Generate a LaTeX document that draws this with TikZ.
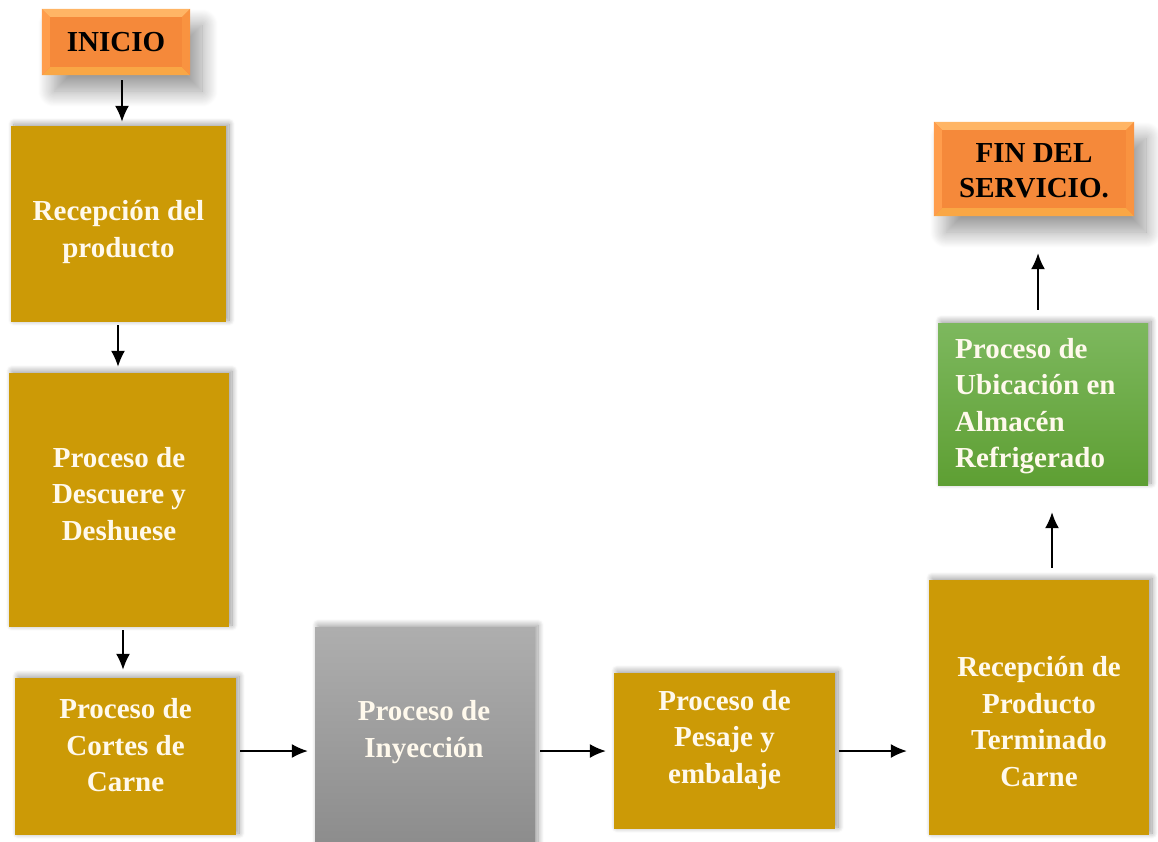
\documentclass[tikz,border=0pt]{standalone}
\usepackage{fontspec}
\setmainfont{Liberation Serif}
\usetikzlibrary{arrows.meta,shadows.blur,calc}
\definecolor{gold}{HTML}{CC9A06}
\definecolor{orcenter}{HTML}{F5893A}
\definecolor{ortop}{HTML}{FFB565}
\definecolor{orleft}{HTML}{FF9D4C}
\definecolor{orbottom}{HTML}{F9A745}
\definecolor{orright}{HTML}{F99340}
\definecolor{grtop}{HTML}{7DB85E}
\definecolor{grbot}{HTML}{5E9F33}
\definecolor{gytop}{HTML}{AEAEAE}
\definecolor{gybot}{HTML}{8C8C8C}
\definecolor{offwhite}{HTML}{FFF9EC}
\newcommand\mybevel[1]{%
  \fill[ortop] (#1.north west) -- (#1.north east) -- ([shift={(-8pt,-8pt)}]#1.north east) -- ([shift={(8pt,-8pt)}]#1.north west) -- cycle;
  \fill[orbottom] (#1.south west) -- (#1.south east) -- ([shift={(-8pt,8pt)}]#1.south east) -- ([shift={(8pt,8pt)}]#1.south west) -- cycle;
  \fill[orleft] (#1.north west) -- (#1.south west) -- ([shift={(8pt,8pt)}]#1.south west) -- ([shift={(8pt,-8pt)}]#1.north west) -- cycle;
  \fill[orright] (#1.north east) -- (#1.south east) -- ([shift={(-8pt,8pt)}]#1.south east) -- ([shift={(-8pt,-8pt)}]#1.north east) -- cycle;
}
\tikzset{
  boxbase/.style={rectangle, inner sep=0pt, draw=none},
  goldbox/.style={boxbase, fill=gold, blur shadow={shadow xshift=3pt, shadow yshift=2pt, shadow blur radius=6pt, shadow opacity=40, shadow blur steps=12}},
  graybox/.style={boxbase, top color=gytop, bottom color=gybot, blur shadow={shadow xshift=3pt, shadow yshift=2pt, shadow blur radius=6pt, shadow opacity=40, shadow blur steps=12}},
  greenbox/.style={boxbase, top color=grtop, bottom color=grbot, blur shadow={shadow xshift=3pt, shadow yshift=2pt, shadow blur radius=6pt, shadow opacity=40, shadow blur steps=12}},
  orbox/.style={boxbase, fill=orcenter, blur shadow={shadow xshift=12pt, shadow yshift=-16pt, shadow blur radius=16pt, shadow opacity=40, shadow blur steps=20}},
  boxtext/.style={inner sep=0pt, align=center, text=offwhite, font=\bfseries\fontsize{29}{36.5}\selectfont},
  ortext/.style={inner sep=0pt, align=center, text=black, font=\bfseries\fontsize{29}{35}\selectfont},
  arr/.style={line width=1.6pt, -{Latex[length=16pt,width=14pt]}}
}
\begin{document}
\begin{tikzpicture}[x=1pt,y=-1pt]
\useasboundingbox (0,0) rectangle (1158,841);
% start / end
\node[orbox, minimum width=148pt, minimum height=66pt] (inicio) at (116,42) {};
\mybevel{inicio}
\node[ortext] (tinicio) at (inicio.center) {INICIO};
\node[orbox, minimum width=200pt, minimum height=94pt] (fin) at (1034,169) {};
\mybevel{fin}
\node[ortext] (tfin) at ([yshift=-2pt]fin.center) {FIN DEL\\SERVICIO.};
% process boxes
\node[goldbox, minimum width=215pt, minimum height=196pt] (recep) at (118.5,224) {};
\node[boxtext] (trecep) at ([yshift=-8pt]recep.center) {Recepción del\\producto};
\node[goldbox, minimum width=220pt, minimum height=254pt] (desc) at (119,500) {};
\node[boxtext] (tdesc) at ([yshift=6pt]desc.center) {Proceso de\\Descuere y\\Deshuese};
\node[goldbox, minimum width=221pt, minimum height=157pt] (cortes) at (125.5,756.5) {};
\node[boxtext] (tcortes) at ([yshift=11pt]cortes.center) {Proceso de\\Cortes de\\Carne};
\node[graybox, minimum width=220pt, minimum height=220pt] (iny) at (425,737) {};
\node[boxtext] (tiny) at (424,732) {Proceso de\\Inyección};
\node[goldbox, minimum width=221pt, minimum height=156pt] (pesaje) at (724.5,751) {};
\node[boxtext] (tpesaje) at ([yshift=11pt]pesaje.center) {Proceso de\\Pesaje y\\embalaje};
\node[goldbox, minimum width=220pt, minimum height=255pt] (term) at (1039,707.5) {};
\node[boxtext] (tterm) at ([yshift=-14pt]term.center) {Recepción de\\Producto\\Terminado\\Carne};
\node[greenbox, minimum width=210pt, minimum height=162pt] (ubic) at (1043,404) {};
\node[boxtext, align=left, anchor=west] (tubic) at (955,406) {Proceso de\\Ubicación en\\Almacén\\Refrigerado};
% connectors
\draw[arr, shorten <=5pt, shorten >=4pt] ([xshift=6pt]inicio.south) -- ([xshift=6pt]inicio.south |- recep.north);
\draw[arr, shorten <=3pt, shorten >=6pt] ([xshift=-0.5pt]recep.south) -- ([xshift=-0.5pt]recep.south |- desc.north);
\draw[arr, shorten <=3pt, shorten >=8pt] ([xshift=4pt]desc.south) -- ([xshift=4pt]desc.south |- cortes.north);
\draw[arr, shorten <=4pt, shorten >=7pt] (cortes.east |- 0,751) -- (iny.west |- 0,751);
\draw[arr, shorten <=5pt, shorten >=8pt] (iny.east |- 0,751) -- (pesaje.west |- 0,751);
\draw[arr, shorten <=4pt, shorten >=22pt] (pesaje.east |- 0,751) -- (term.west |- 0,751);
\draw[arr, shorten <=12pt, shorten >=27pt] ([xshift=13pt]term.north) -- ([xshift=13pt]term.north |- ubic.south);
\draw[arr, shorten <=13pt, shorten >=37pt] ([xshift=-5pt]ubic.north) -- ([xshift=-5pt]ubic.north |- fin.south);
\end{tikzpicture}
\end{document}
